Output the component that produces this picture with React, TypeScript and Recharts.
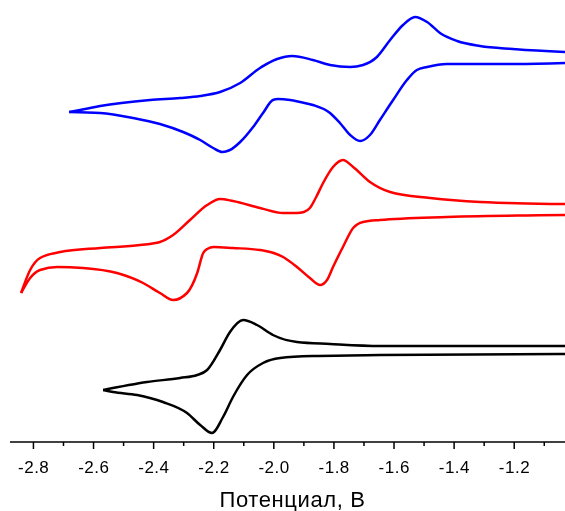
import React from 'react';
import { LineChart, Line, XAxis, YAxis } from 'recharts';

// Potential (V) / current (arbitrary units, curves offset vertically)
const blueForward: [number, number][] = [
  [-2.681, 33.0], [-2.628, 33.3], [-2.578, 33.6], [-2.412, 34.2], [-2.312, 34.4],
  [-2.245, 34.6], [-2.179, 35.0], [-2.112, 35.9], [-2.046, 37.4], [-1.989, 38.3],
  [-1.939, 38.6], [-1.870, 38.2], [-1.813, 37.7], [-1.746, 37.5], [-1.703, 37.7],
  [-1.657, 38.5], [-1.613, 40.2], [-1.570, 41.7], [-1.530, 42.5], [-1.490, 42.0],
  [-1.447, 40.9], [-1.390, 40.1], [-1.314, 39.6], [-1.204, 39.3], [-1.031, 39.0],
];
const blueReverse: [number, number][] = [
  [-2.681, 33.0], [-2.578, 32.9], [-2.468, 32.4], [-2.379, 31.8], [-2.302, 31.0],
  [-2.245, 30.2], [-2.202, 29.4], [-2.172, 29.0], [-2.146, 29.2], [-2.112, 30.0],
  [-2.069, 31.5], [-2.036, 32.9], [-2.003, 34.2], [-1.986, 34.3], [-1.946, 34.2],
  [-1.913, 34.0], [-1.870, 33.7], [-1.813, 32.9], [-1.780, 31.9], [-1.746, 30.7],
  [-1.713, 30.1], [-1.680, 30.7], [-1.647, 32.2], [-1.603, 34.2], [-1.557, 36.2],
  [-1.524, 37.2], [-1.490, 37.5], [-1.424, 37.8], [-1.204, 37.8], [-1.031, 37.9],
];
const redForward: [number, number][] = [
  [-2.841, 14.9], [-2.811, 17.2], [-2.778, 18.4], [-2.711, 19.0], [-2.578, 19.4],
  [-2.445, 19.7], [-2.379, 20.0], [-2.335, 20.7], [-2.279, 22.2], [-2.222, 23.7],
  [-2.179, 24.3], [-2.136, 24.1], [-2.046, 23.4], [-1.969, 22.9], [-1.923, 22.9],
  [-1.900, 23.0], [-1.880, 23.4], [-1.859, 24.5], [-1.836, 25.9], [-1.803, 27.5],
  [-1.770, 28.2], [-1.736, 27.5], [-1.680, 26.0], [-1.613, 25.0], [-1.480, 24.4],
  [-1.314, 24.0], [-1.031, 23.8],
];
const redReverse: [number, number][] = [
  [-2.841, 14.9], [-2.811, 16.4], [-2.778, 17.2], [-2.721, 17.5], [-2.635, 17.4],
  [-2.522, 16.9], [-2.435, 15.9], [-2.379, 14.9], [-2.335, 14.2], [-2.289, 14.9],
  [-2.255, 16.9], [-2.235, 18.9], [-2.222, 19.3], [-2.200, 19.5], [-2.136, 19.4],
  [-2.046, 19.2], [-1.969, 18.5], [-1.923, 17.5], [-1.880, 16.4], [-1.846, 15.7],
  [-1.823, 16.2], [-1.803, 17.5], [-1.770, 19.5], [-1.736, 21.4], [-1.703, 22.0],
  [-1.647, 22.2], [-1.424, 22.5], [-1.031, 22.7],
];
const blackForward: [number, number][] = [
  [-2.568, 5.2], [-2.422, 6.0], [-2.312, 6.4], [-2.255, 6.7], [-2.222, 7.2],
  [-2.179, 9.2], [-2.146, 11.0], [-2.102, 12.2], [-2.056, 11.7], [-2.003, 10.7],
  [-1.923, 10.0], [-1.813, 9.8], [-1.647, 9.6], [-1.031, 9.6],
];
const blackReverse: [number, number][] = [
  [-2.568, 5.2], [-2.535, 5.0], [-2.455, 4.7], [-2.369, 4.0], [-2.289, 2.9],
  [-2.245, 1.7], [-2.206, 0.9], [-2.169, 2.5], [-2.136, 4.5], [-2.089, 6.7],
  [-2.036, 7.9], [-1.979, 8.4], [-1.870, 8.6], [-1.647, 8.7], [-1.031, 8.8],
];

const tickValues = [
  -2.8, -2.7, -2.6, -2.5, -2.4, -2.3, -2.2, -2.1, -2.0, -1.9,
  -1.8, -1.7, -1.6, -1.5, -1.4, -1.3, -1.2, -1.1,
];
const xDomain: [number, number] = [-2.878, -1.031];
const yDomain: [number, number] = [0, 43.4];
const xTitle = 'Потенциал, В';

const series = [
  { key: 'bf', data: blueForward, color: '#0000ff' },
  { key: 'br', data: blueReverse, color: '#0000ff' },
  { key: 'rf', data: redForward, color: '#ff0000' },
  { key: 'rr', data: redReverse, color: '#ff0000' },
  { key: 'kf', data: blackForward, color: '#000000' },
  { key: 'kr', data: blackReverse, color: '#000000' },
];

const FONT = 'Arial, "Liberation Sans", sans-serif';

const AxisTick = (props: any) => {
  const { x, y, payload } = props;
  const v = payload.value as number;
  const major = Math.round(v * 10) % 2 === 0;
  return (
    <g>
      <line x1={x} x2={x} y1={y} y2={y + (major ? 7 : 4)} stroke="#000" strokeWidth={1.5} />
      {major && (
        <text
          x={x + 0.25}
          y={y + 31}
          textAnchor="middle"
          fontSize={17}
          letterSpacing={0.5}
          fontFamily={FONT}
          fill="#000"
        >
          {v.toFixed(1)}
        </text>
      )}
    </g>
  );
};

const TitleLabel = (props: any) => {
  const vb = props.viewBox || { x: 0, y: 0, width: 0, height: 0 };
  return (
    <text
      x={vb.x + vb.width / 2 + 5}
      y={vb.y + 65}
      textAnchor="middle"
      fontSize={22}
      letterSpacing={0.6}
      fontFamily={FONT}
      fill="#000"
    >
      {xTitle}
    </text>
  );
};

export default function App() {
  return (
    <div style={{ position: 'fixed', left: 8, top: 0, width: 557, height: 511 }}>
      <LineChart width={557} height={511} margin={{ top: 8, right: 0, bottom: 0, left: 2 }}>
        <XAxis
          dataKey="v"
          type="number"
          domain={xDomain}
          allowDataOverflow
          ticks={tickValues}
          interval={0}
          tick={<AxisTick />}
          tickLine={false}
          tickSize={0}
          tickMargin={0}
          axisLine={{ stroke: '#000', strokeWidth: 1.5 }}
          height={69}
          label={{ value: xTitle, content: <TitleLabel /> }}
        />
        <YAxis type="number" domain={yDomain} allowDataOverflow hide />
        {series.map((s) => (
          <Line
            key={s.key}
            data={s.data.map(([v, i]) => ({ v, i }))}
            dataKey="i"
            type="monotone"
            stroke={s.color}
            strokeWidth={2.5}
            dot={false}
            activeDot={false}
            isAnimationActive={false}
          />
        ))}
      </LineChart>
    </div>
  );
}
